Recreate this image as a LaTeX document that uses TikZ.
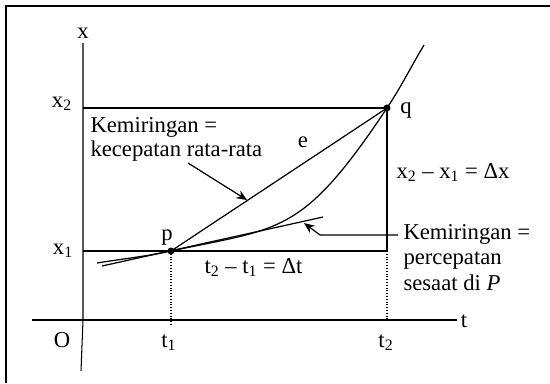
\documentclass[tikz,border=0pt]{standalone}
\usepackage{fontspec}
\setmainfont{Liberation Serif}
\usetikzlibrary{arrows.meta}

\begin{document}
\begin{tikzpicture}[x=0.02cm,y=-0.02cm,line width=.6pt,every node/.style={font=\fontsize{12.9}{13.1}\selectfont,inner sep=0pt}]
\useasboundingbox (0,0) rectangle (550,383);
\draw[line width=1.5pt] (6,383) -- (6,6) -- (550,6);
\coordinate (o) at (83,320);
\coordinate (xtop) at (83,43);
\coordinate (xbot) at (81,371);
\coordinate (tl) at (32,320);
\coordinate (tr) at (457,320);
\coordinate (p) at (171,251);
\coordinate (q) at (387,108);
\coordinate (x1a) at (83,251);
\coordinate (x2a) at (83,108);
\coordinate (r) at (387,251);
\coordinate (t1) at (171,325);
\coordinate (t2) at (387,321);
\coordinate (c0) at (97,263);
\coordinate (c3) at (424,45);
\coordinate (ta) at (102,266);
\coordinate (tb) at (323,217);
\coordinate (a1) at (188,163);
\coordinate (a1e) at (247,200);
\coordinate (a2) at (398,235);
\coordinate (a2m) at (320,235);
\coordinate (a2e) at (304,223);
\draw (xtop) -- (o) -- (xbot);
\draw (tl) -- (tr);
\draw (x2a) -- (q) -- (r) -- (x1a);
\draw[densely dotted] (p) -- (t1);
\draw[densely dotted] (r) -- (t2);
\draw[line width=.7pt] (c0) .. controls (125,258.5) and (146,256.4) .. (p) .. controls (281,227.5) and (302,235.5) .. (q) .. controls (401,87) and (412,65) .. (c3);
\draw[line width=.7pt] (p) -- (q);
\draw[line width=.7pt] (ta) -- (tb);
\fill (p) circle (2pt);
\fill (q) circle (2pt);
\draw[line width=.7pt,-{Stealth[length=6pt,width=5pt]}] (a1) -- (a1e);
\draw[line width=.7pt,-{Stealth[length=6pt,width=5pt]}] (a2) -- (a2m) -- (a2e);
\node[anchor=base] (xl) at (83,38) {x};
\node[anchor=base] (tlab) at (464,327) {t};
\node[anchor=base] (ol) at (62,347) {O};
\node[anchor=base] (x2l) at (62,107) {x\textsubscript{2}};
\node[anchor=base] (x1l) at (63,254) {x\textsubscript{1}};
\node[anchor=base] (t1l) at (169,347) {t\textsubscript{1}};
\node[anchor=base] (t2l) at (386,347) {t\textsubscript{2}};
\node[anchor=base] (pl) at (167,240) {p};
\node[anchor=base] (ql) at (406,113) {q};
\node[anchor=base] (el) at (303,147) {e};
\node[anchor=base west] (dx) at (396,178) {x\textsubscript{2} – x\textsubscript{1} = Δx};
\node[anchor=base west] (dt) at (204,273) {t\textsubscript{2} – t\textsubscript{1} = Δt};
\node[anchor=base west,align=left] (kl) at (90,156) {Kemiringan =\\kecepatan rata-rata};
\node[anchor=base west,align=left,font=\fontsize{12.9}{14.5}\selectfont] (kr) at (403,290) {Kemiringan =\\percepatan\\sesaat di \textit{P}};
\end{tikzpicture}
\end{document}
